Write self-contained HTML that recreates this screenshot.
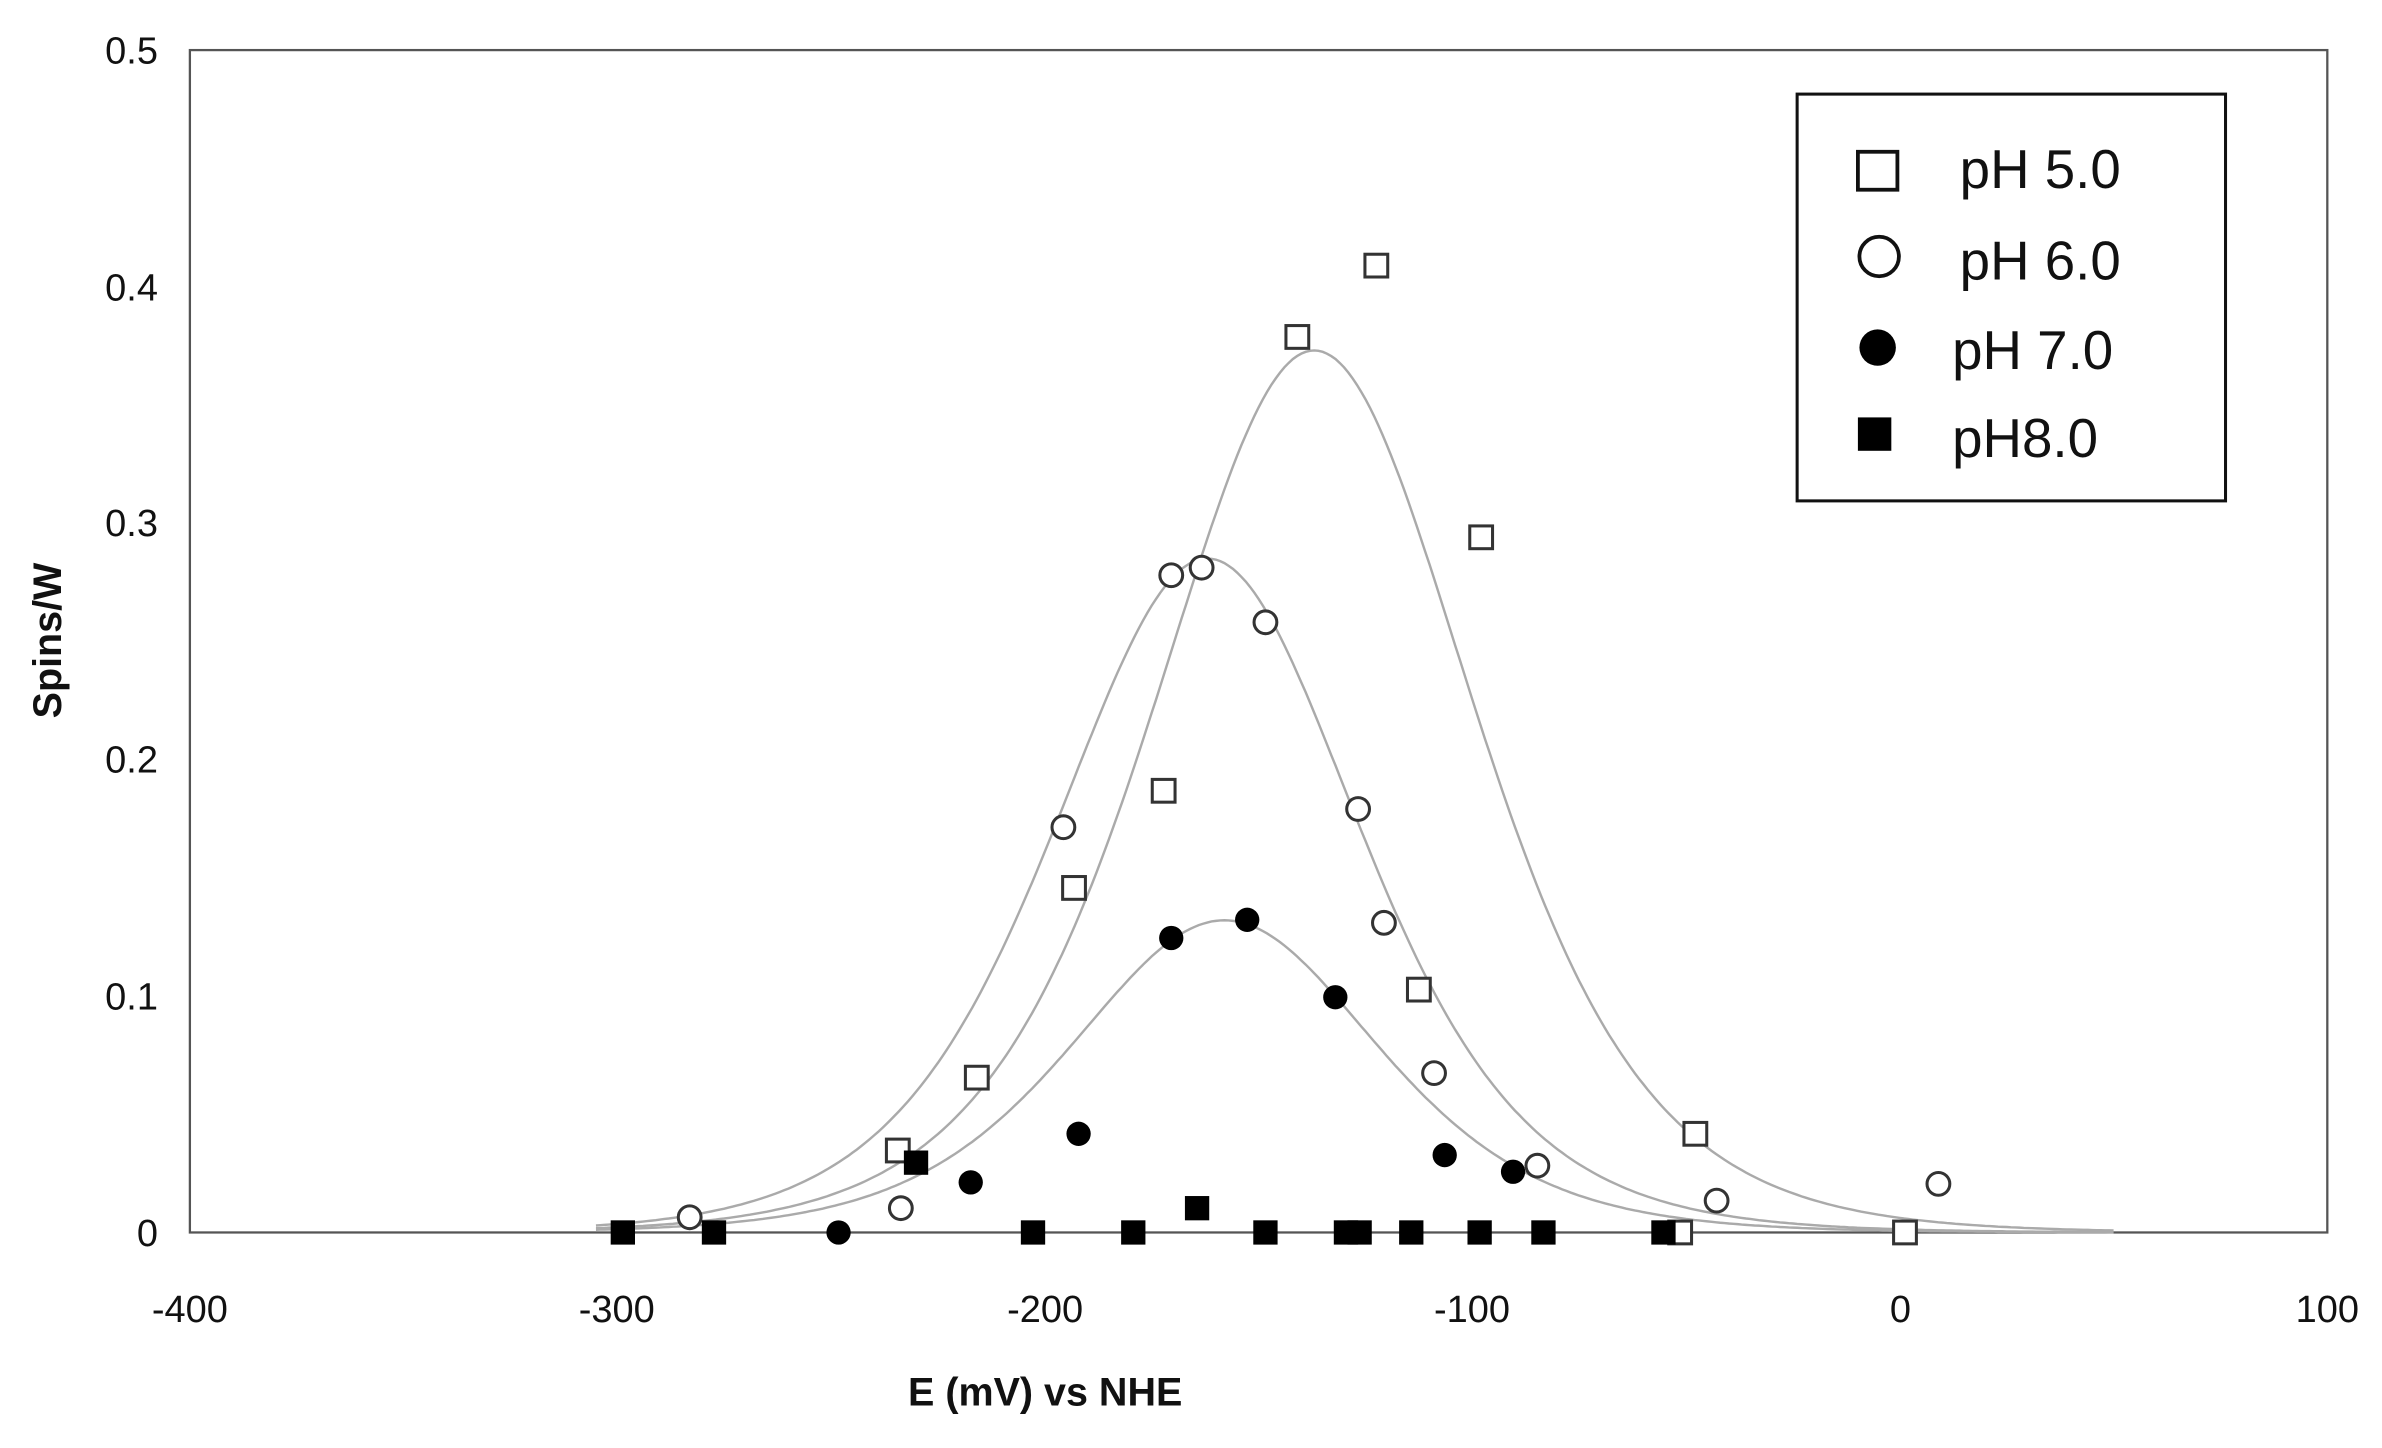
<!DOCTYPE html>
<html><head><meta charset="utf-8"><style>
html,body{margin:0;padding:0;background:#fff;}
svg{display:block;}
text{font-family:"Liberation Sans",Arial,sans-serif;fill:#111;}
</style></head><body>
<svg id="s" width="2382" height="1448" viewBox="0 0 1568 954" preserveAspectRatio="none" xmlns="http://www.w3.org/2000/svg">
<rect x="0" y="0" width="1568" height="954" fill="#fff"/>
<rect x="125" y="33" width="1407" height="779" fill="none" stroke="#555" stroke-width="1.5"/>
<g id="curves" fill="none" stroke="#aaa" stroke-width="1.6"></g>
<g font-size="25" text-anchor="end">
<text x="104" y="821">0</text>
<text x="104" y="665">0.1</text>
<text x="104" y="509">0.2</text>
<text x="104" y="353">0.3</text>
<text x="104" y="198">0.4</text>
<text x="104" y="42">0.5</text>
</g>
<g font-size="25" text-anchor="middle">
<text x="125" y="871">-400</text>
<text x="406" y="871">-300</text>
<text x="688" y="871">-200</text>
<text x="969" y="871">-100</text>
<text x="1251" y="871">0</text>
<text x="1532" y="871">100</text>
</g>
<text x="688" y="926" font-size="26" font-weight="bold" text-anchor="middle">E (mV) vs NHE</text>
<text transform="translate(40,422) rotate(-90)" font-size="26" font-weight="bold" text-anchor="middle">Spins/W</text>
<g id="pts"></g>
<rect x="1183" y="62" width="282" height="268" fill="#fff" stroke="#111" stroke-width="2"/>
<rect x="1223" y="100" width="26" height="25" fill="#fff" stroke="#111" stroke-width="2.5"/>
<circle cx="1237" cy="169" r="13" fill="#fff" stroke="#111" stroke-width="2.5"/>
<circle cx="1236" cy="229" r="12" fill="#000"/>
<rect x="1223" y="275" width="22" height="22" fill="#000"/>
<g font-size="36" style="fill:#222">
<text x="1290" y="124">pH 5.0</text>
<text x="1290" y="184">pH 6.0</text>
<text x="1285" y="243">pH 7.0</text>
<text x="1285" y="301">pH8.0</text>
</g>
</svg>
<script>
var NS="http://www.w3.org/2000/svg";
function X(e){return 125+(e+400)*1407/500;}
function Y(v){return 812-v*1558;}
function cur(A,E0,w){var d="";for(var e=-305;e<=50;e+=1){var t=(e-E0)/w,c=1/Math.cosh(t);var v=A*c*c;d+=(d?"L":"M")+X(e).toFixed(1)+","+Y(v).toFixed(1);}var p=document.createElementNS(NS,"path");p.setAttribute("d",d);document.getElementById("curves").appendChild(p);}
cur(0.373,-137,50);cur(0.285,-162,48);cur(0.132,-158,48);
var g=document.getElementById("pts");
function add(tag,at){var el=document.createElementNS(NS,tag);for(var k in at)el.setAttribute(k,at[k]);g.appendChild(el);}
[[591,758],[643,710],[707,585],[766,521],[854,222],[906,175],[934,652],[975,354],[1116,747],[1106,812],[1254,812]].forEach(function(p){add("rect",{x:p[0]-7.5,y:p[1]-7.5,width:15,height:15,fill:"#fff",stroke:"#333","stroke-width":2});});
[[454,802],[593,796],[700,545],[771,379],[791,374],[833,410],[894,533],[911,608],[944,707],[1012,768],[1130,791],[1276,780]].forEach(function(p){add("circle",{cx:p[0],cy:p[1],r:7.5,fill:"#fff",stroke:"#333","stroke-width":2});});
[[552,812],[639,779],[710,747],[771,618],[821,606],[879,657],[951,761],[996,772]].forEach(function(p){add("circle",{cx:p[0],cy:p[1],r:8,fill:"#000"});});
[[410,812],[470,812],[603,766],[680,812],[746,812],[788,796],[833,812],[886,812],[895,812],[929,812],[974,812],[1016,812],[1095,812]].forEach(function(p){add("rect",{x:p[0]-8,y:p[1]-8,width:16,height:16,fill:"#000"});});
</script>
</body></html>
